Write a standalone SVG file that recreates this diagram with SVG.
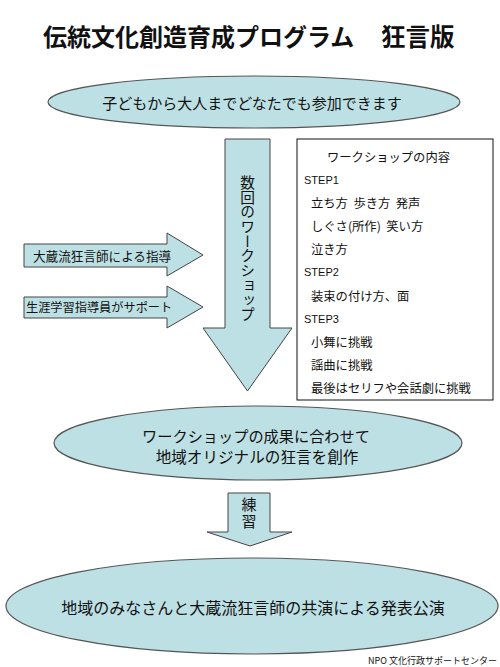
<svg xmlns="http://www.w3.org/2000/svg" width="500" height="667" viewBox="0 0 500 667">
<style>
  .jp{font-family:"Noto Sans CJK JP","Liberation Sans",sans-serif;fill:#111;dominant-baseline:central;white-space:pre}
  .lat{font-family:"Liberation Sans","Noto Sans CJK JP",sans-serif;fill:#111;dominant-baseline:central}
  .shape{fill:#bde0e4;stroke:#444;stroke-width:1}
  .ell{fill:#bde0e4;stroke:#555;stroke-width:1.2}
</style>
<rect width="500" height="667" fill="#fff"/>
<g id="title">
  <text class="jp" x="43" y="35" font-size="24" font-weight="bold">伝統文化創造育成プログラム</text>
  <text class="jp" x="381" y="35" font-size="24.5" font-weight="bold">狂言版</text>
</g>
<g id="node-participants">
  <ellipse class="ell" cx="254" cy="102" rx="206" ry="26"/>
  <text class="jp" x="252" y="102" font-size="15" text-anchor="middle">子どもから大人までどなたでも参加できます</text>
</g>
<g id="connectors">
  <g id="arrow-workshop">
    <path class="shape" d="M225,139 H270 V328 H292 L247.5,391 L203,328 H225 Z"/>
    <text class="jp" x="247.5" y="175" font-size="14.7" writing-mode="vertical-rl">数回のワークショップ</text>
  </g>
  <g id="arrow-okura">
    <path class="shape" d="M24,244 H167 V233 L203,255 L167,276 V267 H24 Z"/>
    <text class="jp" x="33" y="255" font-size="12.6">大蔵流狂言師による指導</text>
  </g>
  <g id="arrow-support">
    <path class="shape" d="M24,297 H167 V286 L203,307 L167,328 V318 H24 Z"/>
    <text class="jp" x="26" y="307" font-size="12.2">生涯学習指導員がサポート</text>
  </g>
  <g id="arrow-practice">
    <path class="shape" d="M228,493 H270 V532 H292 L250,546 L207,532 H228 Z"/>
    <text class="jp" x="249" y="497" font-size="15" letter-spacing="2" writing-mode="vertical-rl">練習</text>
  </g>
</g>
<g id="node-contents">
  <rect x="297" y="139" width="196" height="261" fill="#fff" stroke="#111" stroke-width="1"/>
  <text class="jp" x="327" y="157" font-size="12.3">ワークショップの内容</text>
  <text class="lat" x="304" y="180" font-size="11">STEP1</text>
  <text class="jp" x="311" y="203" font-size="12.3" xml:space="preserve">立ち方  歩き方  発声</text>
  <text class="jp" x="311" y="226" font-size="12.3" xml:space="preserve">しぐさ(所作)  笑い方</text>
  <text class="jp" x="311" y="249" font-size="12.3">泣き方</text>
  <text class="lat" x="304" y="272" font-size="11">STEP2</text>
  <text class="jp" x="311" y="296" font-size="12.3">装束の付け方、面</text>
  <text class="lat" x="304" y="319" font-size="11">STEP3</text>
  <text class="jp" x="311" y="342" font-size="12.3">小舞に挑戦</text>
  <text class="jp" x="311" y="365" font-size="12.3">謡曲に挑戦</text>
  <text class="jp" x="311" y="388" font-size="12.3">最後はセリフや会話劇に挑戦</text>
</g>
<g id="node-create">
  <ellipse class="ell" cx="258" cy="443" rx="204" ry="37"/>
  <text class="jp" x="256" y="435" font-size="15.2" text-anchor="middle">ワークショップの成果に合わせて</text>
  <text class="jp" x="257" y="456" font-size="15.6" text-anchor="middle">地域オリジナルの狂言を創作</text>
</g>
<g id="node-performance">
  <ellipse class="ell" cx="252" cy="606" rx="246" ry="48"/>
  <text class="jp" x="253" y="607" font-size="16" text-anchor="middle">地域のみなさんと大蔵流狂言師の共演による発表公演</text>
</g>
<g id="footer">
  <text class="jp" x="497" y="660" font-size="9" text-anchor="end">NPO 文化行政サポートセンター</text>
</g>
</svg>
